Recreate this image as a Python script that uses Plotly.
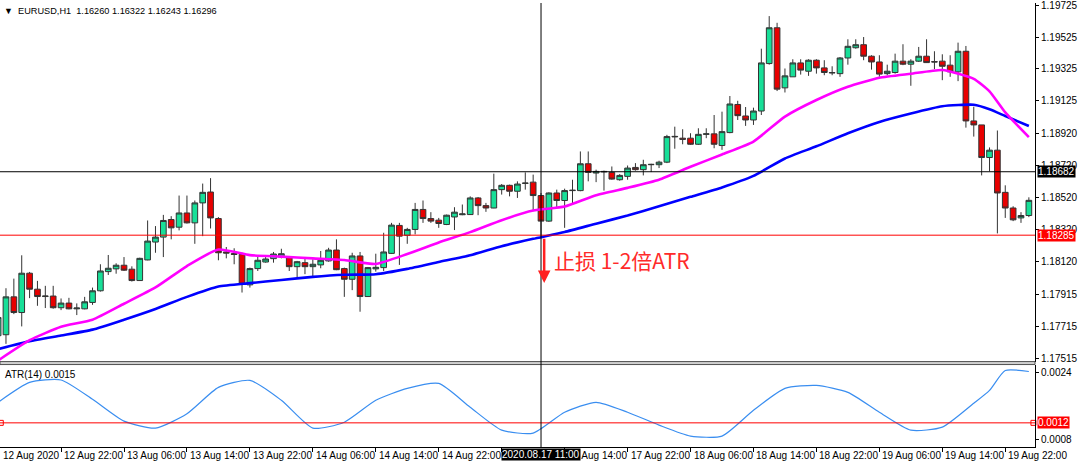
import plotly.graph_objects as go

# ---------------- data (EURUSD H1, bar 0 = 12 Aug 2020 14:00) ----------------
OPEN = [1.17656, 1.17662, 1.17899, 1.17801, 1.18047, 1.17947, 1.17901, 1.17904, 1.17831, 1.17860,
        1.17824, 1.17824, 1.17864, 1.17937, 1.18057, 1.18074, 1.18097, 1.18072, 1.18001, 1.18130,
        1.18242, 1.18273, 1.18383, 1.18335, 1.18424, 1.18362, 1.18487, 1.18555, 1.18389, 1.18180,
        1.18170, 1.18165, 1.17974, 1.18076, 1.18117, 1.18138, 1.18148, 1.18144, 1.18088, 1.18113,
        1.18088, 1.18099, 1.18124, 1.18192, 1.18076, 1.18009, 1.18155, 1.17901, 1.18074, 1.18082,
        1.18171, 1.18346, 1.18284, 1.18321, 1.18446, 1.18389, 1.18379, 1.18352, 1.18399, 1.18413,
        1.18414, 1.18518, 1.18470, 1.18455, 1.18570, 1.18597, 1.18560, 1.18609, 1.18617, 1.18533,
        1.18373, 1.18549, 1.18502, 1.18564, 1.18564, 1.18732, 1.18674, 1.18684, 1.18678, 1.18632,
        1.18653, 1.18709, 1.18695, 1.18726, 1.18726, 1.18742, 1.18900, 1.18892, 1.18892, 1.18854,
        1.18916, 1.18919, 1.18846, 1.18927, 1.19103, 1.19031, 1.19006, 1.19062, 1.19359, 1.19583,
        1.19207, 1.19276, 1.19363, 1.19311, 1.19380, 1.19332, 1.19303, 1.19296, 1.19394, 1.19458,
        1.19477, 1.19405, 1.19369, 1.19296, 1.19303, 1.19374, 1.19355, 1.19374, 1.19405, 1.19371,
        1.19374, 1.19349, 1.19307, 1.19436, 1.19000, 1.18975, 1.18771, 1.18817, 1.18553, 1.18455,
        1.18393, 1.18408]
HIGH = [1.17800, 1.17953, 1.18013, 1.18159, 1.18055, 1.17999, 1.17968, 1.17968, 1.17889, 1.17893,
        1.17858, 1.17899, 1.17957, 1.18103, 1.18161, 1.18109, 1.18148, 1.18090, 1.18144, 1.18377,
        1.18342, 1.18412, 1.18404, 1.18533, 1.18533, 1.18502, 1.18608, 1.18642, 1.18398, 1.18211,
        1.18203, 1.18175, 1.18082, 1.18155, 1.18148, 1.18180, 1.18200, 1.18148, 1.18124, 1.18140,
        1.18134, 1.18186, 1.18206, 1.18259, 1.18082, 1.18175, 1.18180, 1.18086, 1.18169, 1.18300,
        1.18362, 1.18362, 1.18331, 1.18487, 1.18502, 1.18429, 1.18393, 1.18414, 1.18460, 1.18477,
        1.18528, 1.18524, 1.18487, 1.18670, 1.18605, 1.18601, 1.18622, 1.18678, 1.18664, 1.18549,
        1.18553, 1.18570, 1.18576, 1.18632, 1.18809, 1.18809, 1.18695, 1.18689, 1.18715, 1.18667,
        1.18721, 1.18736, 1.18757, 1.18732, 1.18751, 1.18913, 1.18964, 1.18948, 1.18923, 1.18954,
        1.18954, 1.19037, 1.19058, 1.19156, 1.19126, 1.19087, 1.19083, 1.19452, 1.19656, 1.19614,
        1.19328, 1.19386, 1.19386, 1.19386, 1.19386, 1.19380, 1.19342, 1.19400, 1.19511, 1.19511,
        1.19525, 1.19411, 1.19411, 1.19352, 1.19421, 1.19480, 1.19386, 1.19463, 1.19511, 1.19436,
        1.19417, 1.19411, 1.19490, 1.19469, 1.19089, 1.18975, 1.18834, 1.18940, 1.18597, 1.18466,
        1.18429, 1.18522]
LOW = [1.17638, 1.17605, 1.17791, 1.17714, 1.17891, 1.17843, 1.17829, 1.17825, 1.17816, 1.17821,
       1.17785, 1.17821, 1.17849, 1.17932, 1.18036, 1.18044, 1.18061, 1.17995, 1.17999, 1.18128,
       1.18175, 1.18148, 1.18259, 1.18315, 1.18358, 1.18231, 1.18279, 1.18327, 1.18128, 1.18140,
       1.18103, 1.17926, 1.17957, 1.18061, 1.18113, 1.18113, 1.18140, 1.18061, 1.18019, 1.18041,
       1.18024, 1.18078, 1.18119, 1.18066, 1.17899, 1.17941, 1.17806, 1.17899, 1.18057, 1.18061,
       1.18167, 1.18099, 1.18231, 1.18290, 1.18362, 1.18362, 1.18331, 1.18348, 1.18317, 1.18410,
       1.18412, 1.18410, 1.18431, 1.18454, 1.18539, 1.18528, 1.18518, 1.18570, 1.18435, 1.18280,
       1.18368, 1.18455, 1.18331, 1.18477, 1.18560, 1.18622, 1.18617, 1.18564, 1.18632, 1.18626,
       1.18632, 1.18689, 1.18659, 1.18680, 1.18705, 1.18736, 1.18826, 1.18854, 1.18850, 1.18850,
       1.18892, 1.18829, 1.18819, 1.18923, 1.19006, 1.18969, 1.18975, 1.19037, 1.19352, 1.19187,
       1.19178, 1.19276, 1.19290, 1.19282, 1.19296, 1.19286, 1.19286, 1.19276, 1.19352, 1.19452,
       1.19380, 1.19321, 1.19276, 1.19286, 1.19296, 1.19349, 1.19220, 1.19369, 1.19363, 1.19324,
       1.19255, 1.19276, 1.19249, 1.18958, 1.18902, 1.18659, 1.18684, 1.18296, 1.18393, 1.18373,
       1.18362, 1.18398]
CLOSE = [1.17770, 1.17899, 1.17801, 1.18047, 1.17947, 1.17901, 1.17904, 1.17831, 1.17860, 1.17824,
         1.17829, 1.17868, 1.17937, 1.18061, 1.18078, 1.18097, 1.18066, 1.18001, 1.18140, 1.18248,
         1.18273, 1.18377, 1.18331, 1.18424, 1.18362, 1.18487, 1.18553, 1.18393, 1.18175, 1.18173,
         1.18164, 1.17978, 1.18076, 1.18128, 1.18136, 1.18167, 1.18169, 1.18088, 1.18119, 1.18088,
         1.18103, 1.18128, 1.18192, 1.18069, 1.18009, 1.18155, 1.17901, 1.18082, 1.18084, 1.18180,
         1.18348, 1.18279, 1.18321, 1.18446, 1.18389, 1.18373, 1.18358, 1.18410, 1.18429, 1.18418,
         1.18518, 1.18470, 1.18455, 1.18570, 1.18597, 1.18560, 1.18605, 1.18611, 1.18533, 1.18373,
         1.18549, 1.18502, 1.18564, 1.18566, 1.18732, 1.18678, 1.18684, 1.18682, 1.18636, 1.18659,
         1.18705, 1.18695, 1.18726, 1.18728, 1.18742, 1.18902, 1.18903, 1.18885, 1.18854, 1.18916,
         1.18919, 1.18854, 1.18933, 1.19106, 1.19033, 1.19006, 1.19062, 1.19363, 1.19583, 1.19199,
         1.19282, 1.19363, 1.19318, 1.19380, 1.19332, 1.19303, 1.19301, 1.19394, 1.19467, 1.19477,
         1.19405, 1.19369, 1.19293, 1.19311, 1.19374, 1.19355, 1.19374, 1.19405, 1.19365, 1.19369,
         1.19342, 1.19307, 1.19436, 1.19000, 1.18975, 1.18771, 1.18817, 1.18549, 1.18455, 1.18381,
         1.18408, 1.18503]
BARS = list(range(len(OPEN)))

# indicator readings (sampled bars)
IND_BARS = [0, 4, 8, 12, 16, 20, 24, 28, 32, 36, 40, 44, 48, 52, 56, 60, 64, 68, 72, 76, 80,
            84, 88, 92, 96, 100, 104, 108, 112, 116, 120, 124, 126, 128, 131]
MA_FAST = [1.17501, 1.17628, 1.17712, 1.17756, 1.17856, 1.17958, 1.18092, 1.18195, 1.18160, 1.18151,
           1.18140, 1.18130, 1.18105, 1.18167, 1.18239, 1.18304, 1.18379, 1.18439, 1.18464, 1.18535,
           1.18581, 1.18632, 1.18713, 1.18790, 1.18871, 1.19027, 1.19131, 1.19214, 1.19270, 1.19295,
           1.19319, 1.19263, 1.19185, 1.19053, 1.18899]
MA_SLOW = [1.17572, 1.17621, 1.17657, 1.17694, 1.17756, 1.17823, 1.17899, 1.17964, 1.17985, 1.18005,
           1.18024, 1.18037, 1.18041, 1.18074, 1.18117, 1.18159, 1.18216, 1.18262, 1.18305, 1.18357,
           1.18408, 1.18466, 1.18525, 1.18584, 1.18656, 1.18765, 1.18841, 1.18923, 1.18994, 1.19047,
           1.19092, 1.19101, 1.19073, 1.19031, 1.18968]
ATR = [0.001687, 0.002158, 0.002216, 0.001758, 0.001240, 0.001075, 0.001416, 0.002040, 0.002205,
       0.001734, 0.001075, 0.001216, 0.001734, 0.002016, 0.002134, 0.001569, 0.001028, 0.000958,
       0.001452, 0.001687, 0.001452, 0.001146, 0.000887, 0.000887, 0.001499, 0.002016, 0.002087,
       0.001922, 0.001452, 0.001028, 0.001099, 0.001664, 0.001969, 0.002440, 0.002416]

PRICE_TICKS = ["1.19725", "1.19525", "1.19325", "1.19125", "1.18920", "1.18720", "1.18520",
               "1.18320", "1.18120", "1.17915", "1.17715", "1.17515"]
ATR_TICKS = ["0.0024", "0.0008"]
TIME_TICK_BARS = [8, 16, 24, 32, 40, 48, 56, 64, 72, 80, 88, 96, 104, 112, 120, 128]
TIME_TICK_LABELS = ["12 Aug 22:00", "13 Aug 06:00", "13 Aug 14:00", "13 Aug 22:00", "14 Aug 06:00",
                    "14 Aug 14:00", "14 Aug 22:00", "", "17 Aug 14:00", "17 Aug 22:00",
                    "18 Aug 06:00", "18 Aug 14:00", "18 Aug 22:00", "19 Aug 06:00", "19 Aug 14:00",
                    "19 Aug 22:00"]
FIRST_LABEL = "12 Aug 2020"
TITLE = "EURUSD,H1  1.16260 1.16322 1.16243 1.16296"
ATR_TITLE = "ATR(14) 0.0015"

CROSS_BAR = 69
CROSS_TIME = "2020.08.17 11:00"
CROSS_PRICE = 1.18682
STOP_PRICE = 1.18285
ATR_LEVEL = 0.0012
NOTE = "止损 1-2倍ATR"

# ---------------- styling / layout ----------------
FONT = "Liberation Sans, Arial, sans-serif"
X_MIN, X_MAX = 0.24, 131.78
Y_MIN, Y_MAX = 1.17494, 1.19738
A_MIN, A_MAX = 0.000628, 0.002581
MAIN_DOM = [0.1924, 1.0]
ATR_DOM = [0.0, 0.1857]

fig = go.Figure()
fig.add_trace(go.Scatter(x=IND_BARS, y=MA_SLOW, mode="lines", line=dict(color="#0000FF", width=2.6, shape="spline", smoothing=0.5),
                         hoverinfo="skip", showlegend=False))
fig.add_trace(go.Scatter(x=IND_BARS, y=MA_FAST, mode="lines", line=dict(color="#FF00FF", width=2.6, shape="spline", smoothing=0.5),
                         hoverinfo="skip", showlegend=False))
fig.add_trace(go.Candlestick(
    x=BARS, open=OPEN, high=HIGH, low=LOW, close=CLOSE,
    increasing=dict(fillcolor="#18DF98", line=dict(color="#333333", width=1)),
    decreasing=dict(fillcolor="#E80000", line=dict(color="#333333", width=1)),
    whiskerwidth=0, showlegend=False, hoverinfo="skip"))
fig.add_trace(go.Scatter(x=IND_BARS, y=ATR, yaxis="y2", mode="lines",
                         line=dict(color="#3A8EF0", width=1.2, shape="spline", smoothing=0.6),
                         hoverinfo="skip", showlegend=False))
# small end markers of the ATR level line
fig.add_trace(go.Scatter(x=[X_MIN + 0.1, X_MAX - 0.2], y=[ATR_LEVEL, ATR_LEVEL], yaxis="y2", mode="markers",
                         marker=dict(symbol="square-open", size=5, color="#FF0000", line=dict(width=1)),
                         cliponaxis=False, hoverinfo="skip", showlegend=False))

shapes = [
    dict(type="rect", xref="paper", yref="paper", x0=0, x1=1, y0=ATR_DOM[1], y1=MAIN_DOM[0],
         fillcolor="#d0d0d0", line=dict(color="#505050", width=1), layer="above"),
    dict(type="line", xref="paper", yref="y", x0=0, x1=1, y0=CROSS_PRICE, y1=CROSS_PRICE,
         line=dict(color="#000000", width=1), layer="above"),
    dict(type="line", xref="paper", yref="y", x0=0, x1=1, y0=STOP_PRICE, y1=STOP_PRICE,
         line=dict(color="#FF0000", width=1), layer="above"),
    dict(type="line", xref="paper", yref="y2", x0=0, x1=1, y0=ATR_LEVEL, y1=ATR_LEVEL,
         line=dict(color="#FF0000", width=1), layer="above"),
    dict(type="line", xref="x", yref="paper", x0=CROSS_BAR, x1=CROSS_BAR, y0=0, y1=1,
         line=dict(color="#000000", width=1), layer="above"),
]

ann = []
ann.append(dict(xref="paper", yref="paper", x=0, y=1, xanchor="left", yanchor="top", xshift=2, yshift=-1,
                text="<span style='font-size:9px'>▼</span>  " + TITLE, showarrow=False,
                font=dict(family=FONT, size=9.2, color="#000000")))
ann.append(dict(xref="paper", yref="paper", x=0, y=ATR_DOM[1], xanchor="left", yanchor="top", xshift=3, yshift=-2,
                text=ATR_TITLE, showarrow=False, font=dict(family=FONT, size=10, color="#000000")))
ann.append(dict(xref="paper", yref="paper", x=0, y=0, xanchor="left", yanchor="top", xshift=1, yshift=-1,
                text=FIRST_LABEL, showarrow=False, font=dict(family=FONT, size=10, color="#000000")))
for b, lab in zip(TIME_TICK_BARS, TIME_TICK_LABELS):
    if lab:
        ann.append(dict(xref="x", yref="paper", x=b, y=0, xanchor="left", yanchor="top", xshift=1, yshift=-1,
                        text=lab, showarrow=False, font=dict(family=FONT, size=10, color="#000000")))
ann.append(dict(xref="x", yref="paper", x=CROSS_BAR, y=0, xanchor="center", yanchor="top", yshift=-1,
                text=CROSS_TIME, showarrow=False, bgcolor="#000000", borderpad=0,
                font=dict(family=FONT, size=10, color="#FFFFFF")))
ann.append(dict(xref="paper", yref="y", x=1, y=CROSS_PRICE, xanchor="left", yanchor="middle", xshift=2,
                text=f"{CROSS_PRICE:.5f}", showarrow=False, bgcolor="#000000", borderpad=0,
                font=dict(family=FONT, size=10, color="#FFFFFF")))
ann.append(dict(xref="paper", yref="y", x=1, y=STOP_PRICE, xanchor="left", yanchor="middle", xshift=2,
                text=f"{STOP_PRICE:.5f}", showarrow=False, bgcolor="#FF0000", borderpad=0,
                font=dict(family=FONT, size=10, color="#FFFFFF")))
ann.append(dict(xref="paper", yref="y2", x=1, y=ATR_LEVEL, xanchor="left", yanchor="middle", xshift=2,
                text=f"{ATR_LEVEL:.4f}", showarrow=False, bgcolor="#FF0000", borderpad=0,
                font=dict(family=FONT, size=10, color="#FFFFFF")))
ann.append(dict(xref="x", yref="y", axref="x", ayref="y", x=CROSS_BAR + 0.4, y=1.17985,
                ax=CROSS_BAR + 0.4, ay=1.18272, text="", showarrow=True, arrowhead=2, arrowsize=1,
                arrowwidth=2.5, arrowcolor="#FF2020"))
ann.append(dict(xref="x", yref="y", x=CROSS_BAR + 1.35, y=1.18128, xanchor="left", yanchor="middle",
                text=NOTE, showarrow=False, font=dict(family="Noto Sans CJK SC", size=21, color="#FF2A2A")))

fig.update_layout(
    width=1080, height=461, margin=dict(l=0, r=45, t=0, b=14),
    paper_bgcolor="#FFFFFF", plot_bgcolor="#FFFFFF",
    font=dict(family=FONT, size=10, color="#000000"),
    boxgap=0.15, boxgroupgap=0.15,
    xaxis=dict(domain=[0, 1], range=[X_MIN, X_MAX], anchor="y2", showgrid=False, zeroline=False,
               showline=True, linecolor="#000000", linewidth=1, ticks="outside", ticklen=4, tickcolor="#000000",
               tickvals=TIME_TICK_BARS, showticklabels=False, rangeslider=dict(visible=False), fixedrange=True),
    yaxis=dict(domain=MAIN_DOM, range=[Y_MIN, Y_MAX], side="right", anchor="x", showgrid=False, zeroline=False,
               showline=True, linecolor="#000000", linewidth=1, ticks="outside", ticklen=3, tickcolor="#000000",
               tickvals=[float(t) for t in PRICE_TICKS], ticktext=PRICE_TICKS, tickfont=dict(size=10),
               ticklabeloverflow="allow"),
    yaxis2=dict(domain=ATR_DOM, range=[A_MIN, A_MAX], side="right", anchor="x", showgrid=False, zeroline=False,
                showline=True, linecolor="#000000", linewidth=1, ticks="outside", ticklen=3, tickcolor="#000000",
                tickvals=[float(t) for t in ATR_TICKS], ticktext=ATR_TICKS, tickfont=dict(size=10)),
    shapes=shapes, annotations=ann, showlegend=False,
)

fig.write_html("out.html")
